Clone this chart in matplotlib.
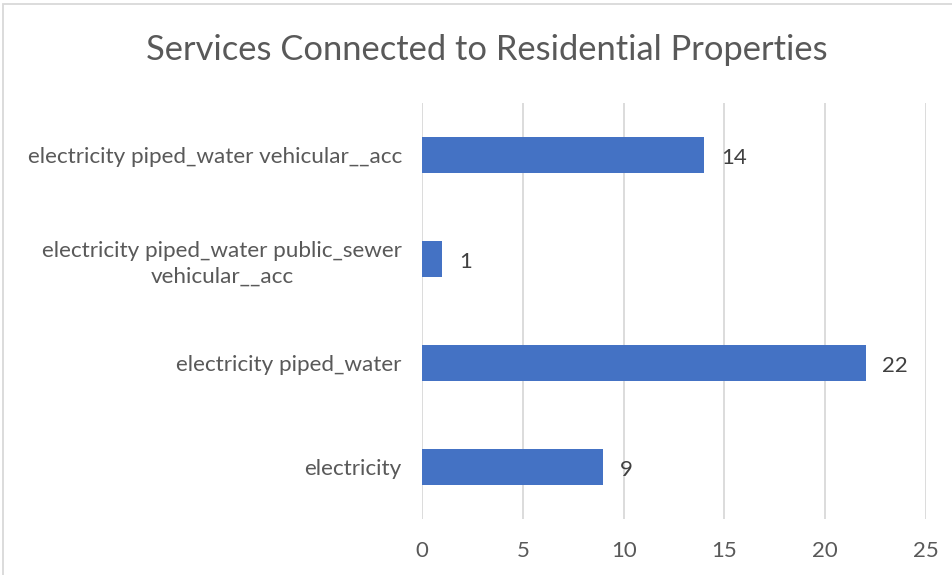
import matplotlib
matplotlib.use("Agg")
import matplotlib.pyplot as plt
from matplotlib.patches import Rectangle

# Data
categories = [
    "electricity",
    "electricity piped_water",
    "electricity piped_water public_sewer\nvehicular__acc",
    "electricity piped_water vehicular__acc",
]
counts = [9, 22, 1, 14]
x_ticks = [0, 5, 10, 15, 20, 25]

title = "Services Connected to Residential Properties"

BAR_COLOR = "#4472C4"
TEXT_COLOR = "#595959"
LABEL_COLOR = "#404040"
GRID_COLOR = "#D9D9D9"

plt.rcParams["font.family"] = ["Lato", "DejaVu Sans"]

W, H = 953, 575
fig = plt.figure(figsize=(W / 100, H / 100), dpi=100)
ax = fig.add_axes([422 / W, 1 - 519 / H, (926 - 422) / W, (519 - 103) / H])

y = list(range(len(categories)))
bars = ax.barh(y, counts, height=0.35, color=BAR_COLOR, zorder=3)

ax.set_xlim(0, 25)
ax.set_ylim(-0.5, len(categories) - 0.5)
ax.set_xticks(x_ticks)
ax.set_xticklabels([str(t) for t in x_ticks])
ax.set_yticks(y)
ax.set_yticklabels(categories, multialignment="center", linespacing=1.35)

ax.grid(axis="x", color=GRID_COLOR, linewidth=1.3, zorder=0)
ax.grid(axis="y", visible=False)
for s in ax.spines.values():
    s.set_visible(False)

ax.tick_params(axis="x", length=0, pad=15.5, labelsize=16, labelcolor=TEXT_COLOR)
ax.tick_params(axis="y", length=0, pad=14.5, labelsize=16.2, labelcolor=TEXT_COLOR)

for rect, v in zip(bars, counts):
    ax.annotate(str(v), xy=(rect.get_width(), rect.get_y() + rect.get_height() / 2),
                xytext=(12, -2), textcoords="offset points",
                ha="left", va="center", fontsize=16, color=LABEL_COLOR)

fig.text(487 / W, 1 - 50 / H, title, ha="center", va="center",
         fontsize=24.8, color=TEXT_COLOR)

# Chart area border
fig.patches.append(Rectangle((3 / W, -0.05), 1.2, 1 - 4 / H + 0.05,
                             transform=fig.transFigure, fill=False,
                             edgecolor=GRID_COLOR, linewidth=1.3))

fig.savefig("out.png", dpi=100, facecolor="white")
